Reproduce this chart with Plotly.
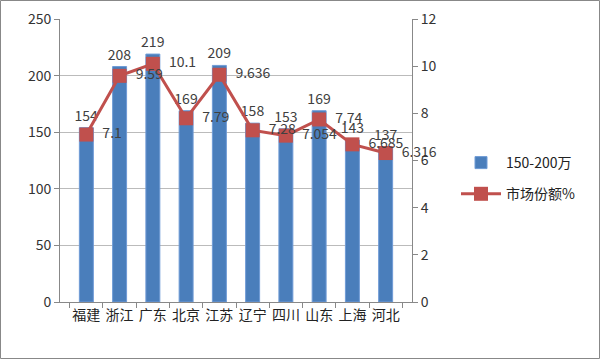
import plotly.graph_objects as go

categories = ["福建", "浙江", "广东", "北京", "江苏", "辽宁", "四川", "山东", "上海", "河北"]
sales = [154, 208, 219, 169, 209, 158, 153, 169, 143, 137]
share = [7.1, 9.59, 10.1, 7.79, 9.636, 7.28, 7.054, 7.74, 6.685, 6.316]
bar_name = "150-200万"
line_name = "市场份额%"

W, H = 600, 359
L, R, T, B = 60, 188, 19, 57
pw, ph = W - L - R, H - T - B

font = "Noto Sans CJK SC, Liberation Sans, sans-serif"
txtc = "#404040"

fig = go.Figure()
fig.add_trace(go.Bar(
    x=categories, y=sales, name=bar_name, legendgroup="a",
    marker=dict(color="#4A7EBB", line=dict(color="#6F9BD6", width=1)),
    width=0.42,
    text=[str(v) for v in sales], textposition="outside",
    textfont=dict(size=14, color=txtc, family=font),
    constraintext="none",
    cliponaxis=False,
))
fig.add_trace(go.Scatter(
    x=categories, y=share, name=line_name, yaxis="y2", legendgroup="b",
    mode="lines+markers+text",
    line=dict(color="#C0504D", width=3),
    marker=dict(symbol="square", size=14, color="#C0504D"),
    text=["  " + str(v) for v in share], textposition="middle right",
    textfont=dict(size=14, color=txtc, family=font),
    cliponaxis=False,
))

fig.update_layout(
    width=W, height=H,
    margin=dict(l=L, r=R, t=T, b=B, autoexpand=False),
    paper_bgcolor="white", plot_bgcolor="white",
    font=dict(family=font, size=13, color=txtc),
    bargap=0.58,
    showlegend=True,
    legend=dict(x=(456 - L) / pw, y=(302 - 147) / ph, xanchor="left", yanchor="top",
                font=dict(size=14, color="#222"), tracegroupgap=10, itemwidth=40,
                bgcolor="rgba(0,0,0,0)"),
    xaxis=dict(showline=True, linecolor="#888", ticks="outside", tickson="boundaries",
               ticklen=5, tickcolor="#888", tickangle=0, automargin=False,
               tickfont=dict(size=14, color="#222")),
    yaxis=dict(range=[0, 250], dtick=50, showgrid=True, gridcolor="#BBB",
               showline=True, linecolor="#888", ticks="outside", ticklen=5,
               tickcolor="#888", zeroline=False, automargin=False,
               tickfont=dict(size=14, color="#333")),
    yaxis2=dict(range=[0, 12], dtick=2, overlaying="y", side="right", showgrid=False,
                showline=True, linecolor="#888", ticks="outside", ticklen=5,
                tickcolor="#888", zeroline=False, automargin=False,
                tickfont=dict(size=14, color="#333")),
    shapes=[dict(type="rect", xref="paper", yref="paper",
                 x0=(0.5 - L) / pw, x1=(W - 0.5 - L) / pw,
                 y0=(H - B - (H - 0.5)) / ph, y1=(H - B - 0.5) / ph,
                 line=dict(color="#888", width=1))],
)

fig.write_html("out.html", config={"displayModeBar": False},
               post_script="document.body.style.margin='0';document.body.style.overflow='hidden';")
